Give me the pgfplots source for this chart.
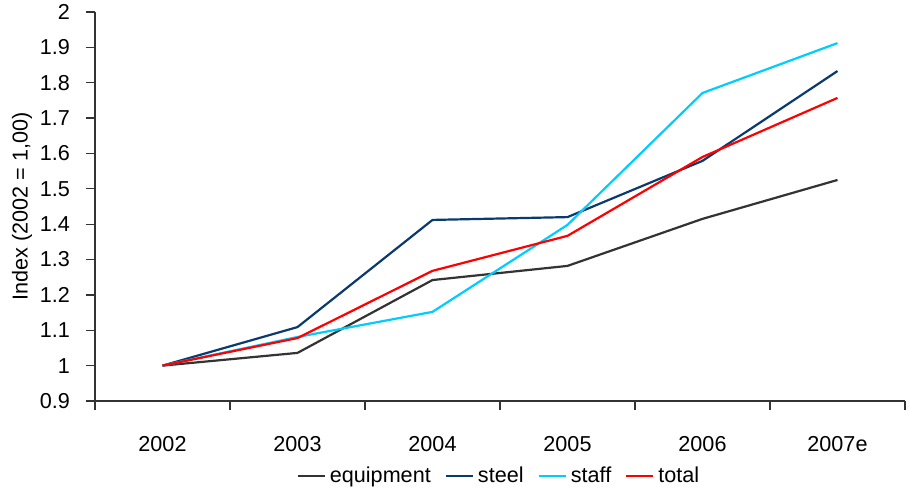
\documentclass[border=0pt]{standalone}
\usepackage{pgfplots}
\pgfplotsset{compat=1.18}
\usepackage{fontspec}
\setmainfont{Liberation Sans}
\definecolor{cEquip}{HTML}{333333}
\definecolor{cSteel}{HTML}{0A3A6E}
\definecolor{cStaff}{HTML}{00CCFF}
\definecolor{cTotal}{HTML}{FF0000}
\begin{document}
\begin{tikzpicture}
\useasboundingbox (-47.5pt,-44.5pt) rectangle (406.5pt,200.5pt);
\begin{axis}[
  scale only axis,
  width=405pt, height=194.5pt,
  xmin=-0.5, xmax=5.5,
  ymin=0.9, ymax=2,
  axis lines=left,
  axis line style={-, black!80, line width=0.6pt},
  xtick={-0.5,0.5,1.5,2.5,3.5,4.5,5.5},
  x tick label as interval=true,
  xticklabels={2002,2003,2004,2005,2006,2007e},
  ytick={0.9,1,1.1,1.2,1.3,1.4,1.5,1.6,1.7,1.8,1.9,2},
  yticklabels={0.9,1,1.1,1.2,1.3,1.4,1.5,1.6,1.7,1.8,1.9,2},
  tick style={black!80, line width=0.6pt},
  tick align=outside,
  major tick length=4.5pt,
  ticklabel style={font=\fontsize{10.8}{12}\selectfont},
  xticklabel style={yshift=-9.5pt},
  yticklabel style={xshift=-4.5pt},
  ylabel={Index (2002 = 1,00)},
  ylabel style={font=\fontsize{10.8}{12}\selectfont, at={(axis description cs:-0.090,0.5)}, anchor=center},
  legend columns=4,
  legend style={draw=none, at={(axis description cs:0.5,-0.193)}, anchor=center,
    font=\fontsize{10.8}{12}\selectfont, /tikz/every even column/.append style={column sep=5pt},
    inner sep=0pt},
  legend image code/.code={\draw[#1] (0pt,0pt) -- (13.5pt,0pt);},
  every axis plot/.append style={line width=1.1pt, mark=none},
]
\addplot[cEquip] coordinates {(0,1.0) (1,1.036) (2,1.242) (3,1.282) (4,1.415) (5,1.525)};
\addlegendentry{equipment}
\addplot[cSteel] coordinates {(0,1.0) (1,1.109) (2,1.412) (3,1.420) (4,1.579) (5,1.833)};
\addlegendentry{steel}
\addplot[cStaff] coordinates {(0,1.0) (1,1.081) (2,1.152) (3,1.398) (4,1.771) (5,1.912)};
\addlegendentry{staff}
\addplot[cTotal] coordinates {(0,1.0) (1,1.078) (2,1.268) (3,1.367) (4,1.590) (5,1.757)};
\addlegendentry{total}
\end{axis}
\end{tikzpicture}
\end{document}
